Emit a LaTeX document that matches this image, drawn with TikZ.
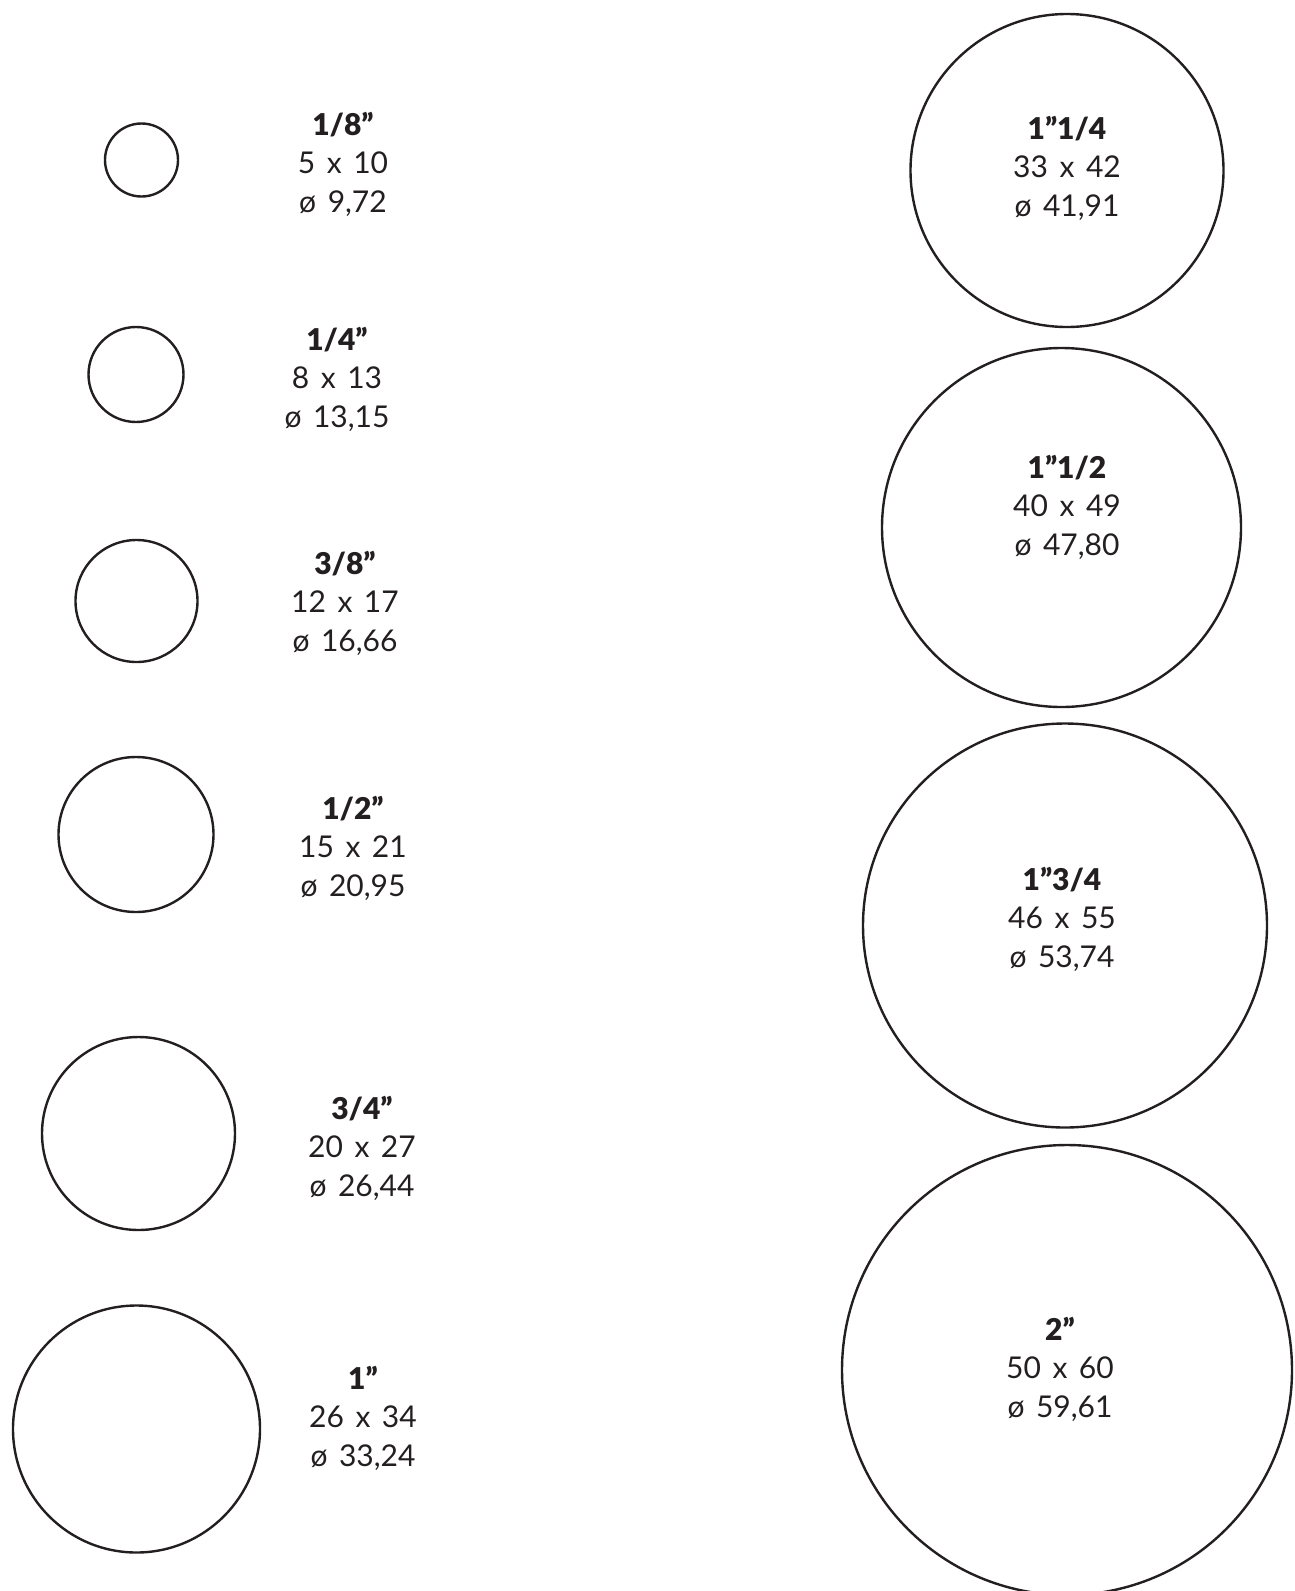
\documentclass[tikz,border=0pt]{standalone}
\usepackage{fontspec}
\setmainfont{Lato}[WordSpace=1.5, BoldFont={Lato Black}]
\definecolor{ink}{HTML}{231F20}
\tikzset{
  pipe/.style={draw=ink, line width=1.2pt},
  sizelabel/.style={align=center, text=ink, anchor=center,
    font=\fontsize{15}{19.25}\selectfont}
}
\begin{document}
\begin{tikzpicture}[x=0.5pt,y=-0.5pt]
    \useasboundingbox (0,0) rectangle (1295,1591);
    % left column
    \draw[pipe] (141.5,160) circle[radius=36.5];
    \node[sizelabel] (t18) at (343,164) {\textbf{1/8”}\\5 x 10\\ø 9,72};
    \draw[pipe] (136,374.5) circle[radius=47.5];
    \node[sizelabel] (t14) at (337,379) {\textbf{1/4”}\\8 x 13\\ø 13,15};
    \draw[pipe] (136.5,601) circle[radius=61];
    \node[sizelabel] (t38) at (345,603) {\textbf{3/8”}\\12 x 17\\ø 16,66};
    \draw[pipe] (136,834.5) circle[radius=77.5];
    \node[sizelabel] (t12) at (353,848) {\textbf{1/2”}\\15 x 21\\ø 20,95};
    \draw[pipe] (138.5,1133.5) circle[radius=96.5];
    \node[sizelabel] (t34) at (362,1148) {\textbf{3/4”}\\20 x 27\\ø 26,44};
    \draw[pipe] (136.5,1429) circle[radius=123.5];
    \node[sizelabel] (t1) at (363,1418) {\textbf{1”}\\26 x 34\\ø 33,24};
    % right column
    \draw[pipe] (1067,170.5) circle[radius=156.5];
    \node[sizelabel] (t114) at (1067,168) {\textbf{1”1/4}\\33 x 42\\ø 41,91};
    \draw[pipe] (1061.5,527.5) circle[radius=179.5];
    \node[sizelabel] (t112) at (1067,507) {\textbf{1”1/2}\\40 x 49\\ø 47,80};
    \draw[pipe] (1065,925.5) circle[radius=202];
    \node[sizelabel] (t134) at (1062,919) {\textbf{1”3/4}\\46 x 55\\ø 53,74};
    \draw[pipe] (1067,1370) circle[radius=225];
    \node[sizelabel] (t2) at (1060,1369) {\textbf{2”}\\50 x 60\\ø 59,61};
\end{tikzpicture}
\end{document}
